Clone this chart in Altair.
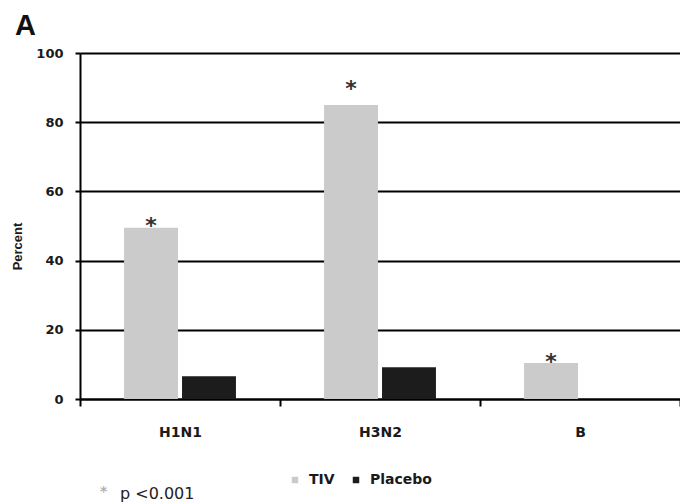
import altair as alt
import pandas as pd

# Seroconversion by strain, TIV vs placebo
strains = ["H1N1", "H3N2", "B"]
tiv_pct = [49.5, 85.0, 10.4]
placebo_pct = [6.6, 9.2, 0.0]
# heights of the significance asterisks above the TIV bars
star_pct = [51.7, 91.3, 12.4]

groups = ["TIV", "Placebo"]
group_colors = ["#cbcbcb", "#1c1c1c"]
y_ticks = [0, 20, 40, 60, 80, 100]

bars_df = pd.DataFrame({
    "strain": strains * 2,
    "group": ["TIV"] * len(strains) + ["Placebo"] * len(strains),
    "pct": tiv_pct + placebo_pct,
})
stars_df = pd.DataFrame({"strain": strains, "group": ["TIV"] * len(strains),
                         "pct": star_pct, "mark": ["*"] * len(strains)})

BOLD = "DejaVu Sans"

x_enc = alt.X(
    "strain:N", sort=strains, title=None,
    scale=alt.Scale(paddingInner=0, paddingOuter=0),
    axis=alt.Axis(labelAngle=0, tickBand="extent", tickSize=7, tickColor="black",
                  tickWidth=2, domainColor="black", domainWidth=2,
                  labelFont=BOLD, labelFontWeight="bold", labelFontSize=14,
                  labelColor="#1a1a1a", labelPadding=19, grid=False),
)
xo_enc = alt.XOffset("group:N", sort=groups,
                     scale=alt.Scale(paddingInner=0.07, paddingOuter=0.76))
y_enc = alt.Y(
    "pct:Q", title="Percent",
    scale=alt.Scale(domain=[0, 100], nice=False),
    axis=alt.Axis(values=y_ticks, grid=True, gridColor="black", gridWidth=2,
                  domainColor="black", domainWidth=2, tickColor="black", tickWidth=2,
                  tickSize=5, labelFont=BOLD, labelFontWeight="bold", labelFontSize=13,
                  labelColor="#1a1a1a", labelPadding=12,
                  titleFont="Liberation Sans", titleFontWeight="bold", titleFontSize=13,
                  titleColor="#1a1a1a", titleX=-63, titleY=193, titleBaseline="middle",
                  titleAlign="center", titleAngle=270),
)

bars = alt.Chart(bars_df).mark_bar().encode(
    x=x_enc,
    xOffset=xo_enc,
    y=y_enc,
    color=alt.Color(
        "group:N", sort=groups, title=None,
        scale=alt.Scale(domain=groups, range=group_colors),
        legend=alt.Legend(orient="none", legendX=208, legendY=420, direction="horizontal",
                          symbolType="square", symbolSize=42, symbolStrokeWidth=0,
                          labelFont=BOLD, labelFontWeight="bold", labelFontSize=14,
                          labelColor="#1a1a1a", labelOffset=7, columnPadding=14,
                          padding=0),
    ),
)

stars = alt.Chart(stars_df).mark_text(
    font=BOLD, fontWeight="bold", fontSize=22, color="#333333",
    baseline="alphabetic", dy=13,
).encode(x=alt.X("strain:N", sort=strains), xOffset=alt.XOffset("group:N", sort=groups),
         y="pct:Q", text="mark:N")

panel = alt.Chart(pd.DataFrame({"t": ["A"]})).mark_text(
    font="Liberation Sans", fontWeight="bold", fontSize=29, color="#111111",
    align="left", baseline="alphabetic",
).encode(x=alt.value(-65), y=alt.value(-18), text="t:N")

foot_star = alt.Chart(pd.DataFrame({"t": ["*"]})).mark_text(
    font=BOLD, fontWeight="bold", fontSize=14, color="#b0b0b0",
    align="left", baseline="alphabetic",
).encode(x=alt.value(20), y=alt.value(443), text="t:N")

foot = alt.Chart(pd.DataFrame({"t": ["p <0.001"]})).mark_text(
    font="DejaVu Sans", fontSize=16, color="#222222",
    align="left", baseline="alphabetic",
).encode(x=alt.value(40), y=alt.value(446), text="t:N")

chart = alt.layer(bars, stars, panel, foot_star, foot).properties(
    width=600, height=346,
    autosize=alt.AutoSizeParams(type="none"),
    padding={"left": 80, "top": 53, "right": 0, "bottom": 103},
).configure_view(stroke=None).configure(background="white")

chart.save("out.html", embed_options={"renderer": "svg", "actions": False})
